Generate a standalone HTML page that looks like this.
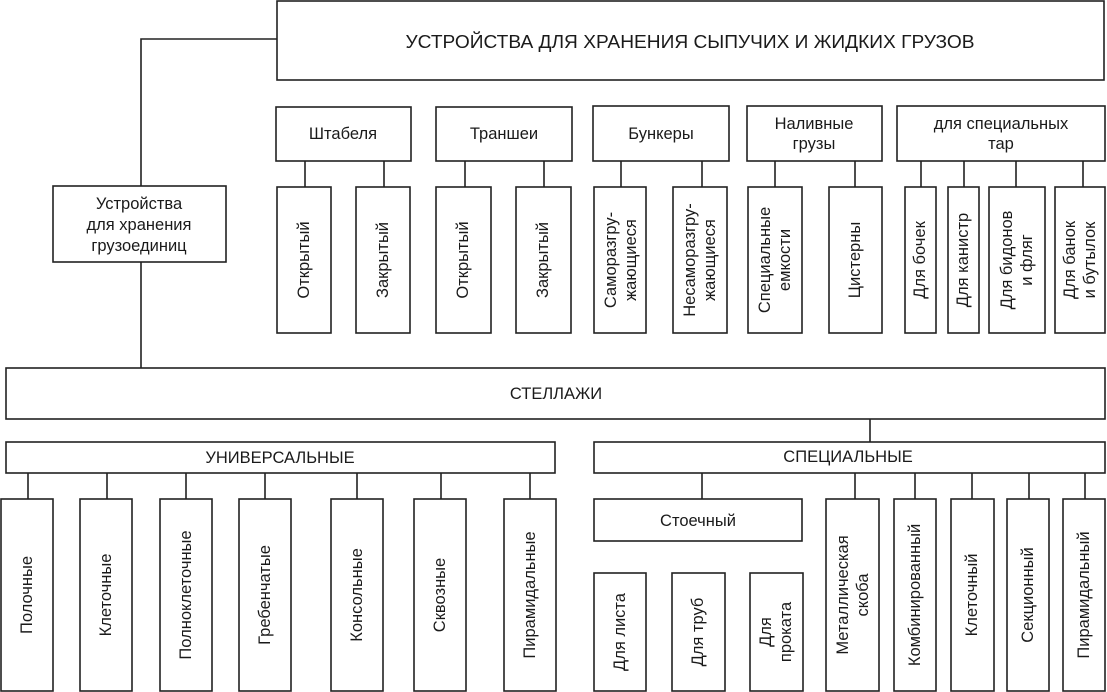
<!DOCTYPE html>
<html><head><meta charset="utf-8"><style>
html,body{margin:0;padding:0;background:#fff;}
svg{display:block;}
text{font-family:"Liberation Sans",Arial,sans-serif;font-size:16.5px;fill:#1a1a1a;}
</style></head><body>
<svg width="1107" height="692" viewBox="0 0 1107 692" xmlns="http://www.w3.org/2000/svg">
<g fill="none" stroke="#222" stroke-width="1.6">
<!-- top -->
<rect x="277" y="1" width="827" height="79"/>
<polyline points="277,39 141,39 141,186"/>
<rect x="53" y="186" width="173" height="76"/>
<line x1="141" y1="262" x2="141" y2="368"/>
<!-- groups -->
<rect x="276" y="107" width="135" height="54"/>
<rect x="436" y="107" width="136" height="54"/>
<rect x="593" y="106" width="136" height="55"/>
<rect x="747" y="106" width="135" height="55"/>
<rect x="897" y="106" width="208" height="55"/>
<!-- connectors -->
<path d="M305,161V187M384,161V187M465,161V187M544,161V187M621,161V187M702,161V187M775,161V187M855,161V187M921,161V187M964,161V187M1016,161V187M1083,161V187"/>
<!-- kids -->
<rect x="277" y="187" width="54" height="146"/>
<rect x="356" y="187" width="54" height="146"/>
<rect x="436" y="187" width="55" height="146"/>
<rect x="516" y="187" width="55" height="146"/>
<rect x="594" y="187" width="52" height="146"/>
<rect x="673" y="187" width="54" height="146"/>
<rect x="748" y="187" width="54" height="146"/>
<rect x="829" y="187" width="53" height="146"/>
<rect x="905" y="187" width="31" height="146"/>
<rect x="948" y="187" width="31" height="146"/>
<rect x="989" y="187" width="56" height="146"/>
<rect x="1055" y="187" width="50" height="146"/>
<!-- stellazhi -->
<rect x="6" y="368" width="1099" height="51"/>
<line x1="870" y1="419" x2="870" y2="442"/>
<rect x="6" y="442" width="549" height="31"/>
<rect x="594" y="442" width="511" height="31"/>
<path d="M28,473V499M107,473V499M186,473V499M265,473V499M357,473V499M441,473V499M530,473V499M702,473V499M855,473V499M915,473V499M972,473V499M1029,473V499M1085,473V499"/>
<rect x="1" y="499" width="52" height="192"/>
<rect x="80" y="499" width="52" height="192"/>
<rect x="160" y="499" width="52" height="192"/>
<rect x="239" y="499" width="52" height="192"/>
<rect x="331" y="499" width="52" height="192"/>
<rect x="414" y="499" width="52" height="192"/>
<rect x="504" y="499" width="52" height="192"/>
<rect x="594" y="499" width="208" height="42"/>
<rect x="594" y="573" width="52" height="118"/>
<rect x="672" y="573" width="53" height="118"/>
<rect x="750" y="573" width="53" height="118"/>
<rect x="826" y="499" width="53" height="192"/>
<rect x="894" y="499" width="42" height="192"/>
<rect x="951" y="499" width="43" height="192"/>
<rect x="1007" y="499" width="42" height="192"/>
<rect x="1063" y="499" width="42" height="192"/>
</g>
<g text-anchor="middle" dominant-baseline="central">
<text x="690" y="42" textLength="569" lengthAdjust="spacingAndGlyphs" style="font-size:18px">УСТРОЙСТВА ДЛЯ ХРАНЕНИЯ СЫПУЧИХ И ЖИДКИХ ГРУЗОВ</text>
<text x="139" y="204">Устройства</text>
<text x="139" y="225">для хранения</text>
<text x="139" y="246">грузоединиц</text>
<text x="343" y="134">Штабеля</text>
<text x="504" y="134">Траншеи</text>
<text x="661" y="134">Бункеры</text>
<text x="814" y="124">Наливные</text>
<text x="814" y="144">грузы</text>
<text x="1001" y="124">для специальных</text>
<text x="1001" y="144">тар</text>
<text x="556" y="394">СТЕЛЛАЖИ</text>
<text x="280" y="458">УНИВЕРСАЛЬНЫЕ</text>
<text x="848" y="457">СПЕЦИАЛЬНЫЕ</text>
<text x="698" y="521">Стоечный</text>
</g>
<g text-anchor="middle" dominant-baseline="central">
<text transform="translate(304,260) rotate(-90)">Открытый</text>
<text transform="translate(383,260) rotate(-90)">Закрытый</text>
<text transform="translate(463,260) rotate(-90)">Открытый</text>
<text transform="translate(543,260) rotate(-90)">Закрытый</text>
<text transform="translate(611,260) rotate(-90)">Саморазгру-</text>
<text transform="translate(631,260) rotate(-90)">жающиеся</text>
<text transform="translate(690,260) rotate(-90)">Несаморазгру-</text>
<text transform="translate(710,260) rotate(-90)">жающиеся</text>
<text transform="translate(765,260) rotate(-90)">Специальные</text>
<text transform="translate(785,260) rotate(-90)">емкости</text>
<text transform="translate(855,260) rotate(-90)">Цистерны</text>
<text transform="translate(920,260) rotate(-90)">Для бочек</text>
<text transform="translate(963,260) rotate(-90)">Для канистр</text>
<text transform="translate(1007,260) rotate(-90)">Для бидонов</text>
<text transform="translate(1027,260) rotate(-90)">и фляг</text>
<text transform="translate(1070,260) rotate(-90)">Для банок</text>
<text transform="translate(1090,260) rotate(-90)">и бутылок</text>
<text transform="translate(27,595) rotate(-90)">Полочные</text>
<text transform="translate(106,595) rotate(-90)">Клеточные</text>
<text transform="translate(186,595) rotate(-90)">Полноклеточные</text>
<text transform="translate(265,595) rotate(-90)">Гребенчатые</text>
<text transform="translate(357,595) rotate(-90)">Консольные</text>
<text transform="translate(440,595) rotate(-90)">Сквозные</text>
<text transform="translate(530,595) rotate(-90)">Пирамидальные</text>
<text transform="translate(620,632) rotate(-90)">Для листа</text>
<text transform="translate(698,632) rotate(-90)">Для труб</text>
<text transform="translate(766,632) rotate(-90)">Для</text>
<text transform="translate(786,632) rotate(-90)">проката</text>
<text transform="translate(843,595) rotate(-90)">Металлическая</text>
<text transform="translate(863,595) rotate(-90)">скоба</text>
<text transform="translate(915,595) rotate(-90)">Комбинированный</text>
<text transform="translate(972,595) rotate(-90)">Клеточный</text>
<text transform="translate(1028,595) rotate(-90)">Секционный</text>
<text transform="translate(1084,595) rotate(-90)">Пирамидальный</text>
</g>
</svg>
</body></html>
